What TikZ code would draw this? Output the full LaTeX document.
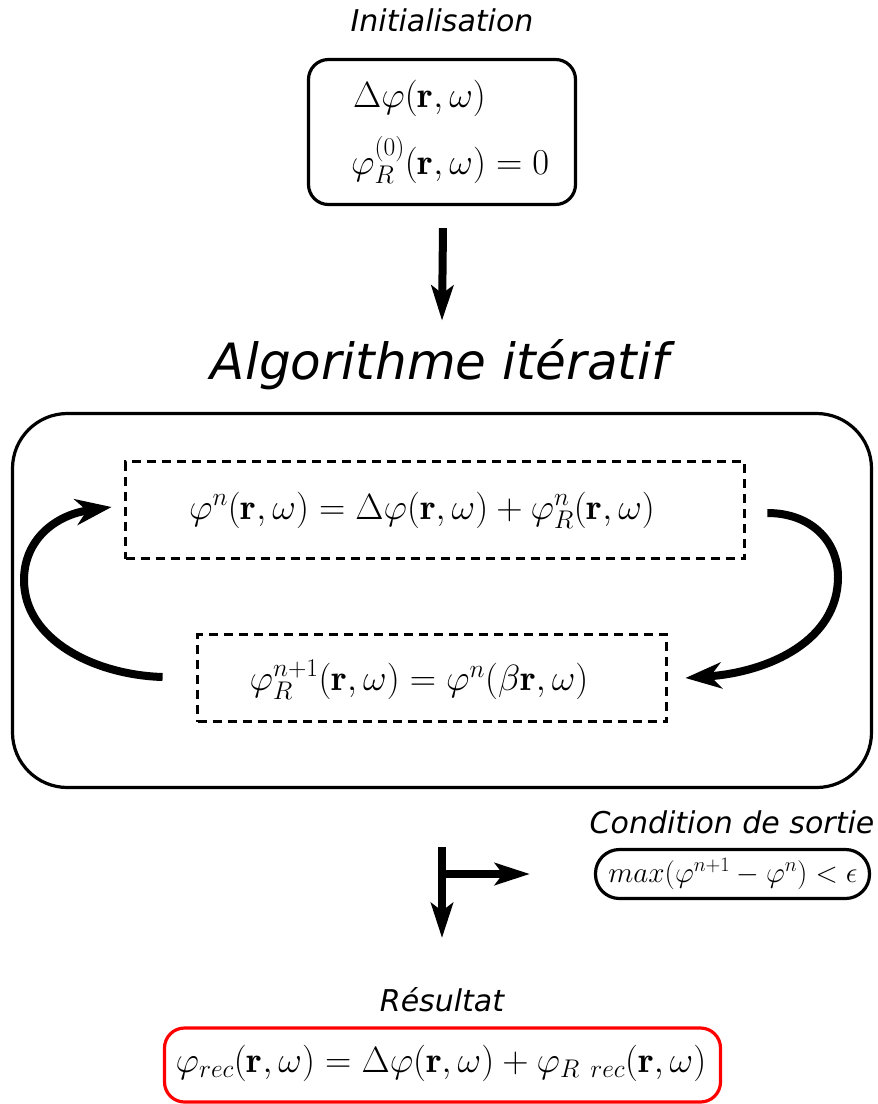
\RequirePackage{fix-cm}
\documentclass[tikz,border=0pt]{standalone}
\usepackage{fontspec}
\usepackage{amsmath}
\newfontfamily\labfont{DejaVu Sans}
\usetikzlibrary{arrows.meta}
\begin{document}
\begin{tikzpicture}[x=1pt,y=-1pt,
  lab/.style={font=\labfont\itshape\fontsize{30}{36}\selectfont, inner sep=0pt},
  title/.style={font=\labfont\itshape\fontsize{50}{60}\selectfont, inner sep=0pt},
  mth/.style={font=\fontsize{36.5}{42}\selectfont, inner sep=0pt},
  smth/.style={font=\fontsize{29.2}{34}\selectfont, inner sep=0pt},
  rbox/.style={draw, line width=3.2pt, rounded corners=20pt},
  dbox/.style={draw, line width=3.8pt, dash pattern=on 9pt off 6pt},
  loop/.style={line width=8pt, -{Stealth[length=36pt,width=26pt,inset=11pt]}},
  flow/.style={line width=8pt, -{Stealth[length=35pt,width=22pt,inset=8pt]}}
]
\useasboundingbox (0,0) rectangle (878,1104);

% Initialisation
\node[lab] (initlab) at (442,20) {Initialisation};
\node[rbox, minimum width=267pt, minimum height=145pt] (init) at (442,132) {};
\node[mth, anchor=west] (init1) at (353,98) {$\Delta\varphi(\mathbf{r},\omega)$};
\node[mth, anchor=west] (init2) at (351,160) {$\varphi_R^{(0)}(\mathbf{r},\omega)=0$};

% arrow to algorithm
\node[title] (algo) at (440,365) {Algorithme itératif};
\draw[flow] ([xshift=1pt,yshift=-22pt]init.south) -- ([xshift=2pt,yshift=19pt]algo.north);

% iterative block
\node[rbox, rounded corners=55pt, minimum width=859pt, minimum height=374pt] (big) at (442,600.5) {};
\node[dbox, minimum width=619pt, minimum height=97pt] (d1) at (435,510) {};
\node[mth] (f1) at (422,510) {$\varphi^n(\mathbf{r},\omega)=\Delta\varphi(\mathbf{r},\omega)+\varphi_R^n(\mathbf{r},\omega)$};
\node[dbox, minimum width=469pt, minimum height=87pt] (d2) at (432,678) {};
\node[mth] (f2) at (419,680) {$\varphi_R^{n+1}(\mathbf{r},\omega)=\varphi^n(\beta\mathbf{r},\omega)$};

\draw[loop] ([xshift=21pt,yshift=-3pt]d1.east) .. controls (810,513) and (838,540) .. (838,577)
   .. controls (838,640) and (770,672) .. ([xshift=17pt]d2.east);
\draw[loop] ([xshift=-33pt,yshift=1pt]d2.west) .. controls (95,675) and (24,640) .. (24,580)
   .. controls (24,540) and (55,515) .. ([xshift=-12pt]d1.west |- 0,507);

% exit condition
\node[lab] (condlab) at (732,822) {Condition de sortie};
\node[draw, line width=3.2pt, rounded corners=24pt, minimum width=274pt, minimum height=49pt] (cond) at (732.5,874) {};
\node[smth] (cf) at (733,874) {$max(\varphi^{n+1}-\varphi^n)<\epsilon$};

\coordinate (b0) at (442,847);
\coordinate (b1) at (442,874);
\coordinate (b2) at (442,938);
\draw[flow] (b0) -- (b2);
\draw[flow] ([xshift=-4pt]b1) -- ([xshift=-64pt]cond.west |- b1);

% result
\node[lab] (reslab) at (442,1000) {Résultat};
\node[draw=red, line width=3.2pt, rounded corners=20pt, minimum width=556pt, minimum height=74pt] (res) at (442.5,1065) {};
\node[mth] (rf) at (441,1063) {$\varphi_{rec}(\mathbf{r},\omega)=\Delta\varphi(\mathbf{r},\omega)+\varphi_{R~rec}(\mathbf{r},\omega)$};
\end{tikzpicture}
\end{document}
